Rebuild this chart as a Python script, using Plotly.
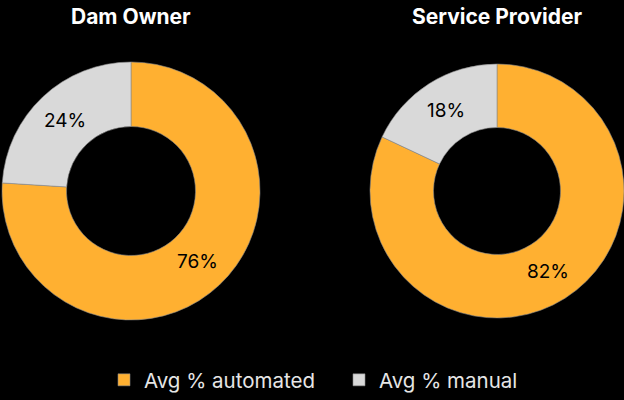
import math
import plotly.graph_objects as go

labels = ["Avg % automated", "Avg % manual"]
dam_owner = [76, 24]
service_provider = [82, 18]
groups = ["Dam Owner", "Service Provider"]
colors = ["#FFB031", "#D9D9D9"]

W, H = 624, 400
MB = 6           # bottom margin, leaves room for the legend to sit low
HP = H - MB      # plot area height in pixels
# pie domains in pixels: (x0, x1, y_top, y_bottom)
domains = [(2, 260, 62, 320), (370, 624, 62, 320)]
hole = 0.5

fig = go.Figure()
for i, (name, vals) in enumerate(zip(groups, [dam_owner, service_provider])):
    x0, x1, yt, yb = domains[i]
    fig.add_trace(go.Pie(labels=labels, values=vals, hole=hole, sort=False,
                         domain=dict(x=[x0 / W, x1 / W], y=[1 - yb / HP, 1 - yt / HP]),
                         marker=dict(colors=colors, line=dict(color="#8a8a8a", width=0.6)),
                         textinfo="none", hoverinfo="label+percent",
                         name=name, showlegend=(i == 0)))

    # percent labels at the middle of the ring, on each slice's bisector
    cx = (x0 + x1) / 2
    cy = (yt + yb) / 2
    R = min(x1 - x0, yb - yt) / 2
    rm = R * (1 + hole) / 2
    total = sum(vals)
    cum = 0
    for v in vals:
        theta = 2 * math.pi * (cum + v / 2) / total
        cum += v
        px = cx + rm * math.sin(theta)
        py = cy - rm * math.cos(theta)
        fig.add_annotation(x=px / W, y=1 - py / HP, xref="paper", yref="paper",
                           text=f"{round(100 * v / total)}%", showarrow=False,
                           xanchor="center", yanchor="middle",
                           font=dict(size=19, color="black"))

    fig.add_annotation(x=(131 if i == 0 else 497) / W, y=1 - 17 / HP, xref="paper", yref="paper",
                       text=f"<b>{name}</b>", showarrow=False, xanchor="center", yanchor="middle",
                       font=dict(size=21, color="white"))

fig.update_layout(
    width=W, height=H,
    margin=dict(l=0, r=0, t=0, b=MB),
    paper_bgcolor="black", plot_bgcolor="black",
    font=dict(family="Inter", color="#E6E6E6"),
    legend=dict(orientation="h", x=104 / W, xanchor="left", y=-MB / HP, yanchor="bottom",
                font=dict(size=20.5, color="#E6E6E6"), itemwidth=30, entrywidth=190),
)

fig.write_html("out.html", config={"displayModeBar": False},
               post_script="document.body.style.margin='0';document.body.style.background='black';")
